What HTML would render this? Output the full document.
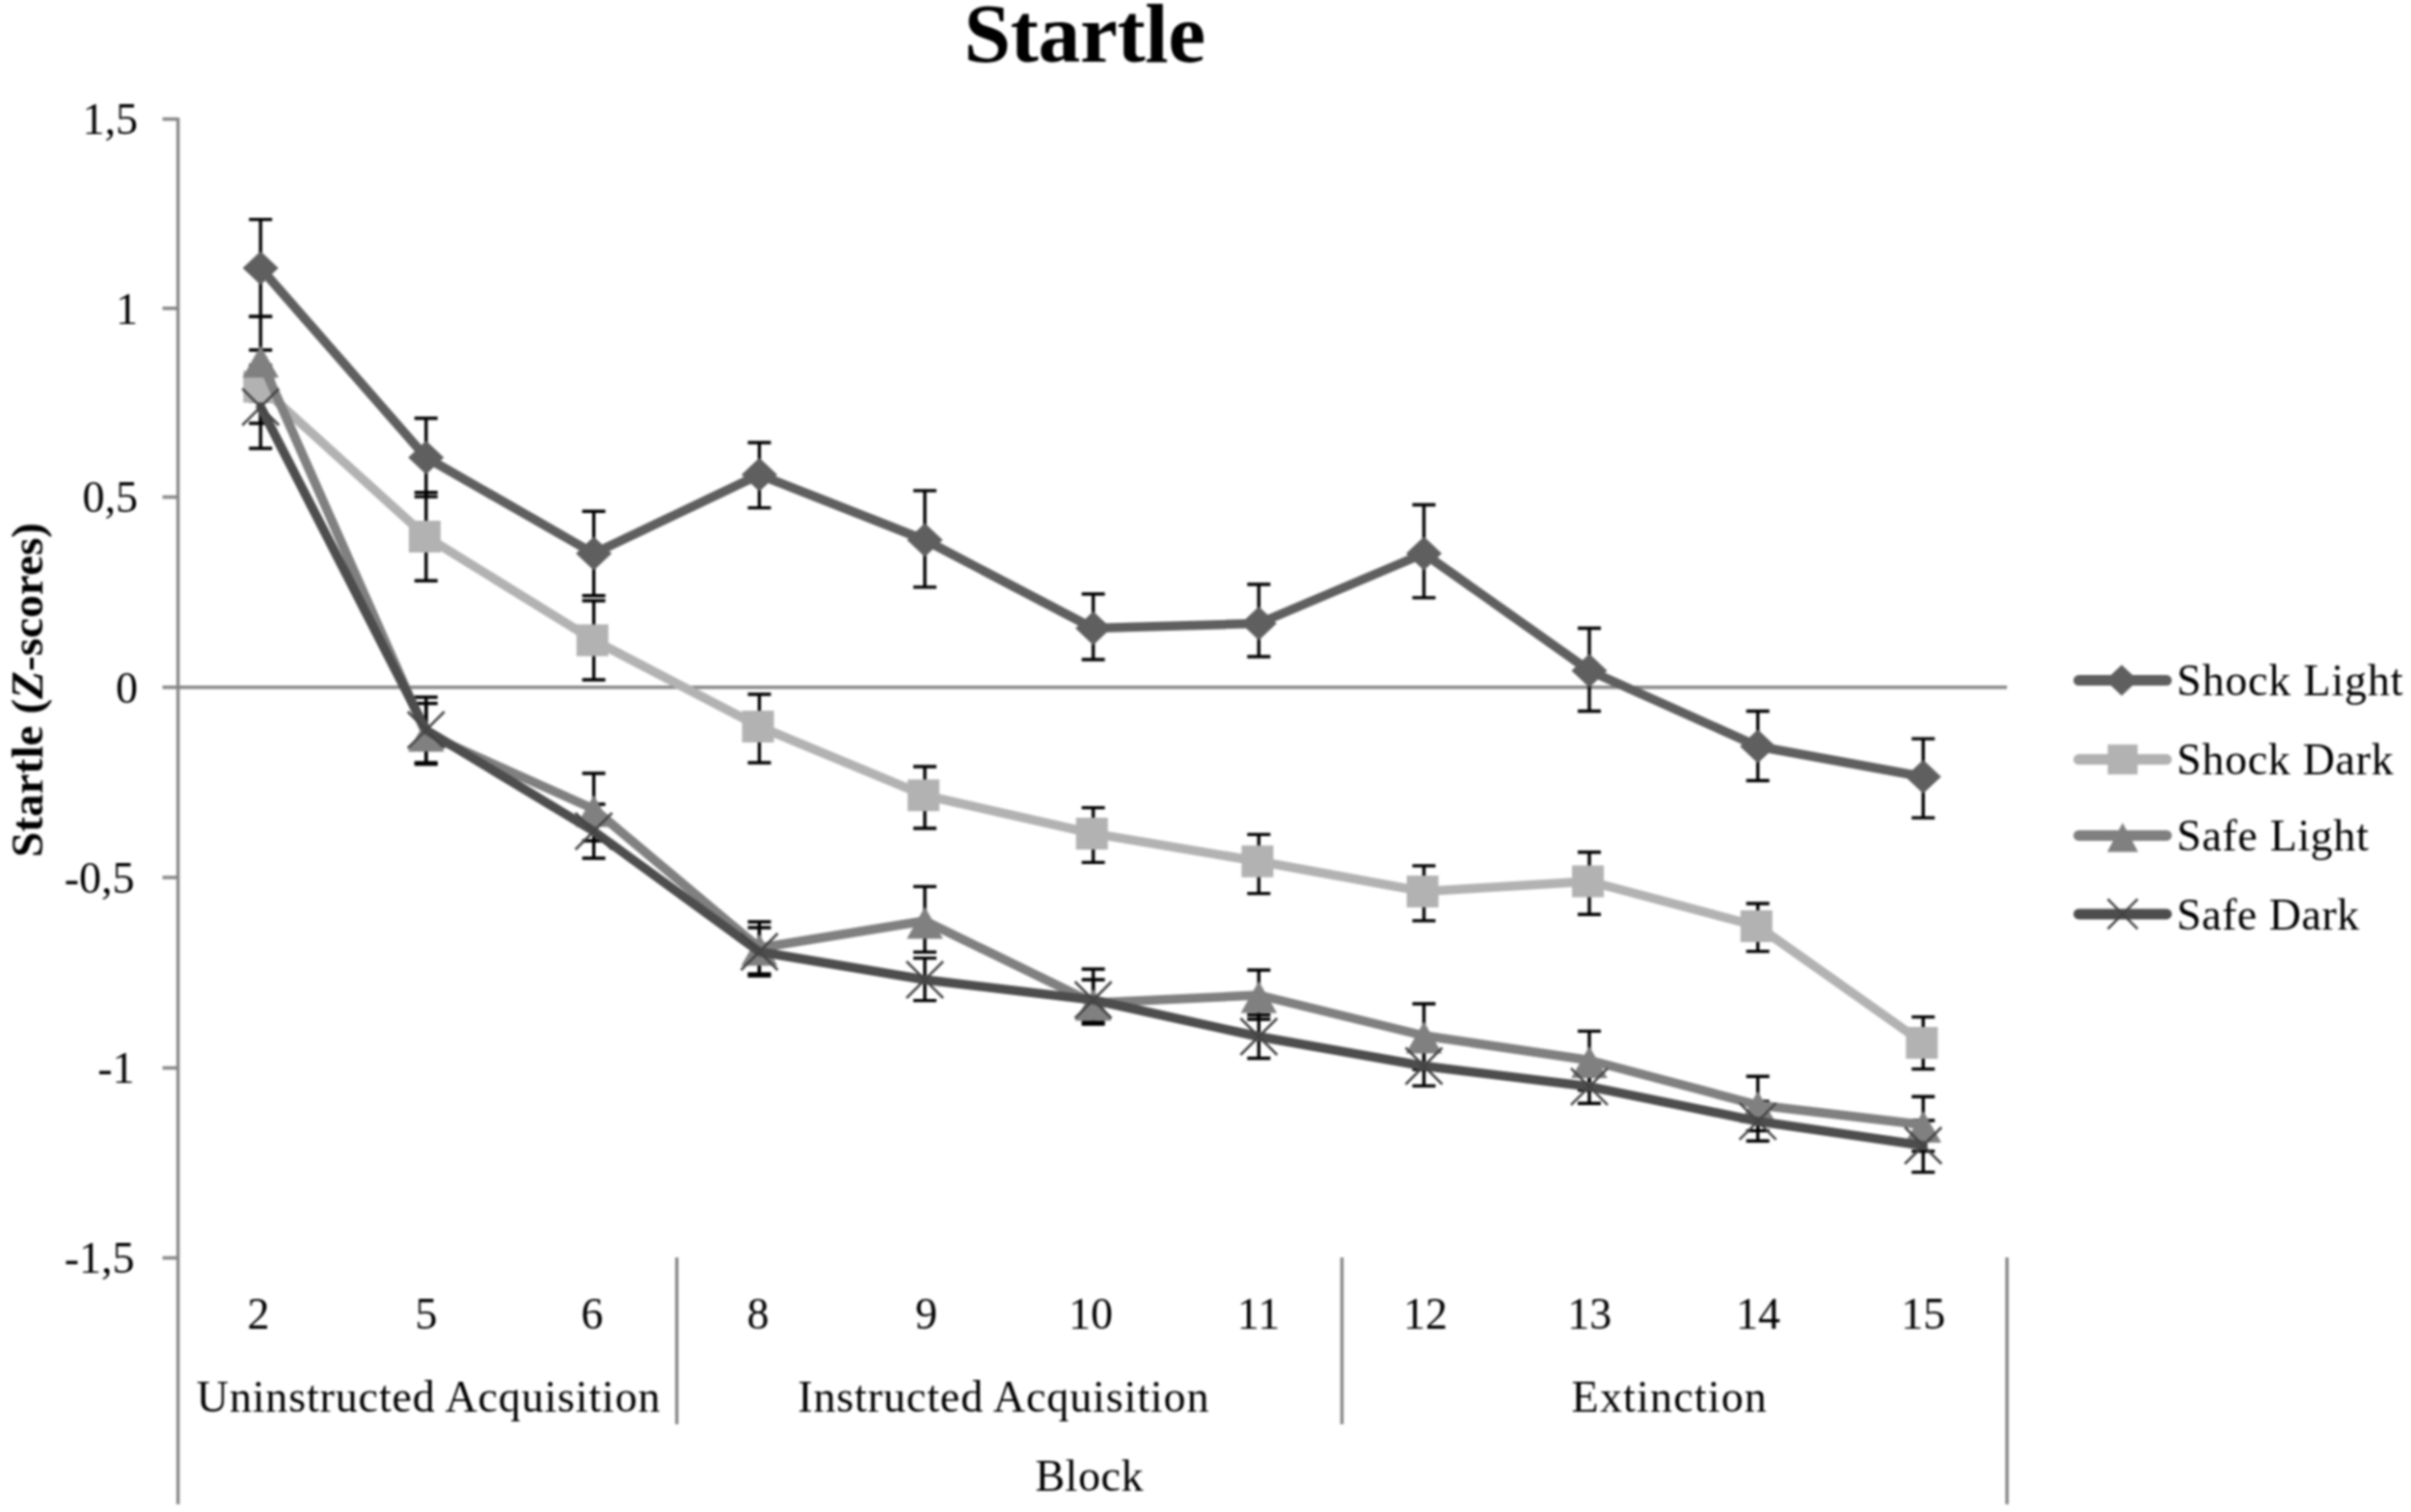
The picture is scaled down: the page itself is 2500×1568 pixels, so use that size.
<!DOCTYPE html>
<html lang="en"><head><meta charset="utf-8"><title>Startle</title>
<style>html,body{margin:0;padding:0;background:#fff}body{width:2500px;height:1568px;overflow:hidden}svg{display:block;filter:blur(1px)}</style>
</head><body>
<svg width="2500" height="1568" viewBox="0 0 2500 1568">
<rect width="2500" height="1568" fill="#fff"/>
<g stroke="#868686" stroke-width="3.4" fill="none">
<path d="M184.6 122V1560"/>
<path d="M184.6 712.7H2081.1"/>
<path d="M168.5 123.5H184.6M168.5 319.7H184.6M168.5 515.5H184.6M168.5 712.7H184.6M168.5 910H184.6M168.5 1107.5H184.6M168.5 1304.5H184.6"/>
<path d="M701.8 1304V1477M1391.5 1304V1477M2081.1 1304V1560"/>
</g>
<path d="M270.2 227.6V328.4M258.2 227.6H282.2M258.2 328.4H282.2M441.8 433.7V515.1M429.8 433.7H453.8M429.8 515.1H453.8M615.7 530.3V617.7M603.7 530.3H627.7M603.7 617.7H627.7M787.4 459V526.6M775.4 459H799.4M775.4 526.6H799.4M959 508.9V608.9M947 508.9H971M947 608.9H971M1133.6 616V684M1121.6 616H1145.6M1121.6 684H1145.6M1305.3 606V681M1293.3 606H1317.3M1293.3 681H1317.3M1476.5 523.5V619.9M1464.5 523.5H1488.5M1464.5 619.9H1488.5M1648 651.5V737.5M1636 651.5H1660M1636 737.5H1660M1822.7 737.5V809.5M1810.7 737.5H1834.7M1810.7 809.5H1834.7M1994.2 766.1V848.1M1982.2 766.1H2006.2M1982.2 848.1H2006.2" stroke="#000" stroke-width="3.4" fill="none"/>
<path d="M270.2 363V439M258.2 363H282.2M258.2 439H282.2M441.8 510.8V602.2M429.8 510.8H453.8M429.8 602.2H453.8M615.7 623V705M603.7 623H627.7M603.7 705H627.7M787.4 720V791M775.4 720H799.4M775.4 791H799.4M959 795V859M947 795H971M947 859H971M1133.6 837.6V894.4M1121.6 837.6H1145.6M1121.6 894.4H1145.6M1305.3 865.4V926.6M1293.3 865.4H1317.3M1293.3 926.6H1317.3M1476.5 897.9V954.9M1464.5 897.9H1488.5M1464.5 954.9H1488.5M1648 883.8V948.2M1636 883.8H1660M1636 948.2H1660M1822.7 937V986.6M1810.7 937H1834.7M1810.7 986.6H1834.7M1994.2 1054.6V1108.6M1982.2 1054.6H2006.2M1982.2 1108.6H2006.2" stroke="#000" stroke-width="3.4" fill="none"/>
<path d="M270.2 328.2V415.8M258.2 328.2H282.2M258.2 415.8H282.2M441.8 729.5V792.5M429.8 729.5H453.8M429.8 792.5H453.8M615.7 802V872M603.7 802H627.7M603.7 872H627.7M787.4 956V1010M775.4 956H799.4M775.4 1010H799.4M959 919.4V987.4M947 919.4H971M947 987.4H971M1133.6 1016V1060M1121.6 1016H1145.6M1121.6 1060H1145.6M1305.3 1006V1057M1293.3 1006H1317.3M1293.3 1057H1317.3M1476.5 1041V1109M1464.5 1041H1488.5M1464.5 1109H1488.5M1648 1069.4V1130.6M1636 1069.4H1660M1636 1130.6H1660M1822.7 1116.2V1172.6M1810.7 1116.2H1834.7M1810.7 1172.6H1834.7M1994.2 1137.3V1193.9M1982.2 1137.3H2006.2M1982.2 1193.9H2006.2" stroke="#000" stroke-width="3.4" fill="none"/>
<path d="M270.2 379V465M258.2 379H282.2M258.2 465H282.2M441.8 723V791M429.8 723H453.8M429.8 791H453.8M615.7 834V890M603.7 834H627.7M603.7 890H627.7M787.4 962V1012M775.4 962H799.4M775.4 1012H799.4M959 993.6V1037.6M947 993.6H971M947 1037.6H971M1133.6 1005V1062M1121.6 1005H1145.6M1121.6 1062H1145.6M1305.3 1052.5V1097.5M1293.3 1052.5H1317.3M1293.3 1097.5H1317.3M1476.5 1086.9V1126.1M1464.5 1086.9H1488.5M1464.5 1126.1H1488.5M1648 1109.4V1144.2M1636 1109.4H1660M1636 1144.2H1660M1822.7 1142.3V1183.3M1810.7 1142.3H1834.7M1810.7 1183.3H1834.7M1994.2 1162V1215.6M1982.2 1162H2006.2M1982.2 1215.6H2006.2" stroke="#000" stroke-width="3.4" fill="none"/>
<polyline points="270.2,278 441.8,474.4 615.7,574 787.4,492.3 959,560 1133.6,651.5 1305.3,646.5 1476.5,574 1648,695.5 1822.7,774 1994.2,805.5" fill="none" stroke="#5f5f5f" stroke-width="9.5" stroke-linejoin="round" stroke-linecap="round"/>
<path d="M270.2 260.5L288.7 278L270.2 295.5L251.7 278ZM441.8 456.9L460.3 474.4L441.8 491.9L423.3 474.4ZM615.7 556.5L634.2 574L615.7 591.5L597.2 574ZM787.4 474.8L805.9 492.3L787.4 509.8L768.9 492.3ZM959 542.5L977.5 560L959 577.5L940.5 560ZM1133.6 634L1152.1 651.5L1133.6 669L1115.1 651.5ZM1305.3 629L1323.8 646.5L1305.3 664L1286.8 646.5ZM1476.5 556.5L1495 574L1476.5 591.5L1458 574ZM1648 678L1666.5 695.5L1648 713L1629.5 695.5ZM1822.7 756.5L1841.2 774L1822.7 791.5L1804.2 774ZM1994.2 788L2012.7 805.5L1994.2 823L1975.7 805.5Z" fill="#5f5f5f"/>
<polyline points="270.2,401 441.8,556.5 615.7,664 787.4,753.5 959,824.8 1133.6,864.4 1305.3,893.3 1476.5,924.6 1648,914 1822.7,960.5 1994.2,1081.6" fill="none" stroke="#b2b2b2" stroke-width="9.5" stroke-linejoin="round" stroke-linecap="round"/>
<path d="M252.3 384.5h33.0v33.0h-33.0ZM423.9 540h33.0v33.0h-33.0ZM597.8 647.5h33.0v33.0h-33.0ZM769.5 737h33.0v33.0h-33.0ZM941.1 808.3h33.0v33.0h-33.0ZM1115.7 847.9h33.0v33.0h-33.0ZM1287.4 876.8h33.0v33.0h-33.0ZM1458.6 908.1h33.0v33.0h-33.0ZM1630.1 897.5h33.0v33.0h-33.0ZM1804.8 944h33.0v33.0h-33.0ZM1976.3 1065.1h33.0v33.0h-33.0Z" fill="#b2b2b2"/>
<polyline points="270.2,373 441.8,761 615.7,839 787.4,983 959,955 1133.6,1040 1305.3,1032 1476.5,1074 1648,1099.5 1822.7,1146 1994.2,1166.5" fill="none" stroke="#808080" stroke-width="9.5" stroke-linejoin="round" stroke-linecap="round"/>
<path d="M270.2 358.6L289 391.4L251.4 391.4ZM441.8 746.6L460.6 779.4L423 779.4ZM615.7 824.6L634.5 857.4L596.9 857.4ZM787.4 968.6L806.2 1001.4L768.6 1001.4ZM959 940.6L977.8 973.4L940.2 973.4ZM1133.6 1025.6L1152.4 1058.4L1114.8 1058.4ZM1305.3 1017.6L1324.1 1050.4L1286.5 1050.4ZM1476.5 1059.6L1495.3 1092.4L1457.7 1092.4ZM1648 1085.1L1666.8 1117.9L1629.2 1117.9ZM1822.7 1131.6L1841.5 1164.4L1803.9 1164.4ZM1994.2 1152.1L2013 1184.9L1975.4 1184.9Z" fill="#808080"/>
<polyline points="270.2,422 441.8,757 615.7,862 787.4,987 959,1016 1133.6,1037 1305.3,1075 1476.5,1105.5 1648,1126.8 1822.7,1162.8 1994.2,1188" fill="none" stroke="#4d4d4d" stroke-width="9.5" stroke-linejoin="round" stroke-linecap="round"/>
<path d="M251.2 403L289.2 441M289.2 403L251.2 441M422.8 738L460.8 776M460.8 738L422.8 776M596.7 843L634.7 881M634.7 843L596.7 881M768.4 968L806.4 1006M806.4 968L768.4 1006M940 997L978 1035M978 997L940 1035M1114.6 1018L1152.6 1056M1152.6 1018L1114.6 1056M1286.3 1056L1324.3 1094M1324.3 1056L1286.3 1094M1457.5 1086.5L1495.5 1124.5M1495.5 1086.5L1457.5 1124.5M1629 1107.8L1667 1145.8M1667 1107.8L1629 1145.8M1803.7 1143.8L1841.7 1181.8M1841.7 1143.8L1803.7 1181.8M1975.2 1169L2013.2 1207M2013.2 1169L1975.2 1207" fill="none" stroke="#444" stroke-width="2.5"/>
<g font-family="'Liberation Serif', serif" fill="#000">
<text x="999.5" y="64.3" font-size="87.5" font-weight="bold" textLength="250.5" lengthAdjust="spacing">Startle</text>
<text x="143" y="139.3" font-size="46" text-anchor="end">1,5</text>
<text x="143" y="335.5" font-size="46" text-anchor="end">1</text>
<text x="143" y="531.3" font-size="46" text-anchor="end">0,5</text>
<text x="143" y="728.5" font-size="46" text-anchor="end">0</text>
<text x="139.5" y="925.8" font-size="46" text-anchor="end">-0,5</text>
<text x="139.5" y="1123.3" font-size="46" text-anchor="end">-1</text>
<text x="139.5" y="1320.3" font-size="46" text-anchor="end">-1,5</text>
<text x="268" y="1378" font-size="46" text-anchor="middle">2</text>
<text x="442" y="1378" font-size="46" text-anchor="middle">5</text>
<text x="614" y="1378" font-size="46" text-anchor="middle">6</text>
<text x="786" y="1378" font-size="46" text-anchor="middle">8</text>
<text x="960.5" y="1378" font-size="46" text-anchor="middle">9</text>
<text x="1131" y="1378" font-size="46" text-anchor="middle">10</text>
<text x="1305" y="1378" font-size="46" text-anchor="middle">11</text>
<text x="1478" y="1378" font-size="46" text-anchor="middle">12</text>
<text x="1648.3" y="1378" font-size="46" text-anchor="middle">13</text>
<text x="1823" y="1378" font-size="46" text-anchor="middle">14</text>
<text x="1994.2" y="1378" font-size="46" text-anchor="middle">15</text>
<text x="203.8" y="1464" font-size="46" textLength="480.8" lengthAdjust="spacing">Uninstructed Acquisition</text>
<text x="827.2" y="1464" font-size="46" textLength="426.2" lengthAdjust="spacing">Instructed Acquisition</text>
<text x="1629.6" y="1464" font-size="46" textLength="202.2" lengthAdjust="spacing">Extinction</text>
<text x="1073.4" y="1546.2" font-size="46" textLength="112" lengthAdjust="spacing">Block</text>
<text transform="translate(43.5 889) rotate(-90)" font-size="47" font-weight="bold" textLength="347" lengthAdjust="spacing">Startle (<tspan font-style="italic">Z</tspan>-scores)</text>
<path d="M2155.5 705.6H2246.5" stroke="#5f5f5f" stroke-width="11" stroke-linecap="round" fill="none"/>
<path d="M2200 689.6L2217 705.6L2200 721.6L2183 705.6Z" fill="#5f5f5f"/>
 <text x="2257" y="720.8" font-size="46" textLength="234.5" lengthAdjust="spacing">Shock Light</text>
<path d="M2155.5 787.6H2246.5" stroke="#b2b2b2" stroke-width="11" stroke-linecap="round" fill="none"/>
<path d="M2185.5 772.1h31.0v31.0h-31.0Z" fill="#b2b2b2"/>
 <text x="2257" y="802.8" font-size="46" textLength="224.7" lengthAdjust="spacing">Shock Dark</text>
<path d="M2155.5 866.4H2246.5" stroke="#808080" stroke-width="11" stroke-linecap="round" fill="none"/>
<path d="M2201 853.2L2217 883.6L2185 883.6Z" fill="#808080"/>
 <text x="2257" y="882.3" font-size="46" textLength="199" lengthAdjust="spacing">Safe Light</text>
<path d="M2155.5 947.9H2246.5" stroke="#4d4d4d" stroke-width="11" stroke-linecap="round" fill="none"/>
<path d="M2185.5 932.4L2216.5 963.4M2216.5 932.4L2185.5 963.4" stroke="#444" stroke-width="2.5" fill="none"/>
 <text x="2257" y="963.6" font-size="46" textLength="189.2" lengthAdjust="spacing">Safe Dark</text>
</g>
</svg>
</body></html>
